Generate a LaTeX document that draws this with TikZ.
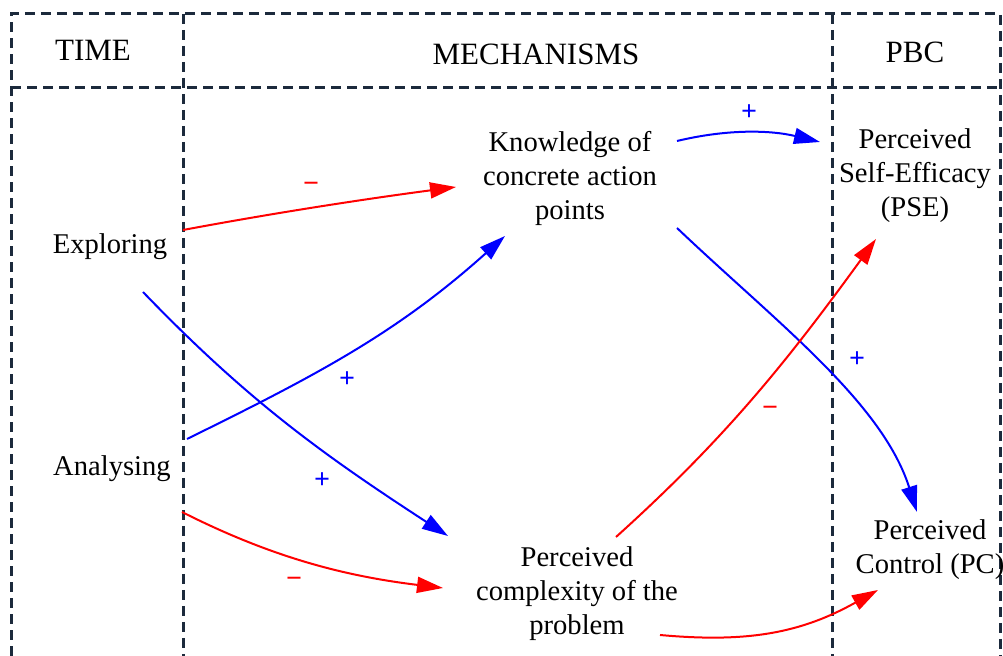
\documentclass[tikz,border=0pt]{standalone}
\usepackage{fontspec}
\setmainfont{Liberation Serif}
\usetikzlibrary{arrows.meta,calc}
\begin{document}
\begin{tikzpicture}[x=0.5pt,y=0.5pt,
  frame/.style={draw={rgb,255:red,28;green,42;blue,60}, line width=1.5pt, dash pattern=on 5pt off 3pt},
  head/.style={font=\fontsize{15.5}{18}\selectfont, inner sep=0pt},
  txt/.style={font=\fontsize{14.3}{17}\selectfont, align=center, inner sep=0pt},
  link/.style={line width=1pt, -{Triangle[length=13pt,width=8pt]}},
  poslink/.style={link, blue},
  neglink/.style={link, red},
  sgn/.style={font=\fontsize{14}{14}\selectfont\bfseries, inner sep=0pt},
  possgn/.style={sgn, text=blue},
  negsgn/.style={sgn, text=red}
]
\useasboundingbox (0,0) rectangle (1003,-656);
% frame
\draw[frame] (11,-656) -- (11,-14) -- (1000,-14) -- (1000,-656);
\draw[frame] (11,-88) -- (1000,-88);
\draw[frame] (183,-14) -- (183,-656);
\draw[frame] (832,-14) -- (832,-656);
% headers
\node[head] (time) at (93,-50) {TIME};
\node[head] (mech) at (536,-54) {MECHANISMS};
\node[head] (pbc) at (915,-52) {PBC};
% nodes
\node[txt] (expl) at (110,-247) {Exploring};
\node[txt] (anal) at (112,-469) {Analysing};
\node[txt] (know) at (570,-178) {Knowledge of\\concrete action\\points};
\node[txt] (pse) at (915,-176) {Perceived\\Self-Efficacy\\(PSE)};
\node[txt] (comp) at (577,-594) {Perceived\\complexity of the\\problem};
\node[txt] (pc) at (930,-550) {Perceived\\Control (PC)};
% connectors
\draw[neglink] ($(expl)+(73,17)$) .. controls +(91,17) and +(-91,-12) .. ($(know)+(-114,-9)$);
\draw[poslink] ($(expl)+(33,-45)$) .. controls +(104,-108) and +(-126,82) .. ($(comp)+(-129,58)$);
\draw[poslink] ($(anal)+(75,30)$) .. controls +(130,64) and +(-108,-97) .. ($(know)+(-65,-58)$);
\draw[neglink] ($(anal)+(70,-43)$) .. controls +(89,-45) and +(-99,12) .. ($(comp)+(-134,6)$);
\draw[poslink] ($(know)+(107,37)$) .. controls +(50,12) and +(-50,12) .. ($(pse)+(-95,34)$);
\draw[poslink] ($(know)+(107,-50)$) .. controls +(100,-95) and +(-35,110) .. ($(pc)+(-13,38)$);
\draw[neglink] ($(comp)+(39,57)$) .. controls +(111,100) and +(-88,-121) .. ($(pse)+(-39,-63)$);
\draw[neglink] ($(comp)+(83,-41)$) .. controls +(88,-8) and +(-77,-43) .. ($(pc)+(-52,-40)$);
% signs
\node[negsgn] (s1) at (311,-187) {−};
\node[possgn] (s2) at (322,-481) {+};
\node[possgn] (s3) at (347,-380) {+};
\node[negsgn] (s4) at (294,-582) {−};
\node[possgn] (s5) at (749,-113) {+};
\node[possgn] (s6) at (857,-360) {+};
\node[negsgn] (s7) at (770,-411) {−};
\end{tikzpicture}
\end{document}
